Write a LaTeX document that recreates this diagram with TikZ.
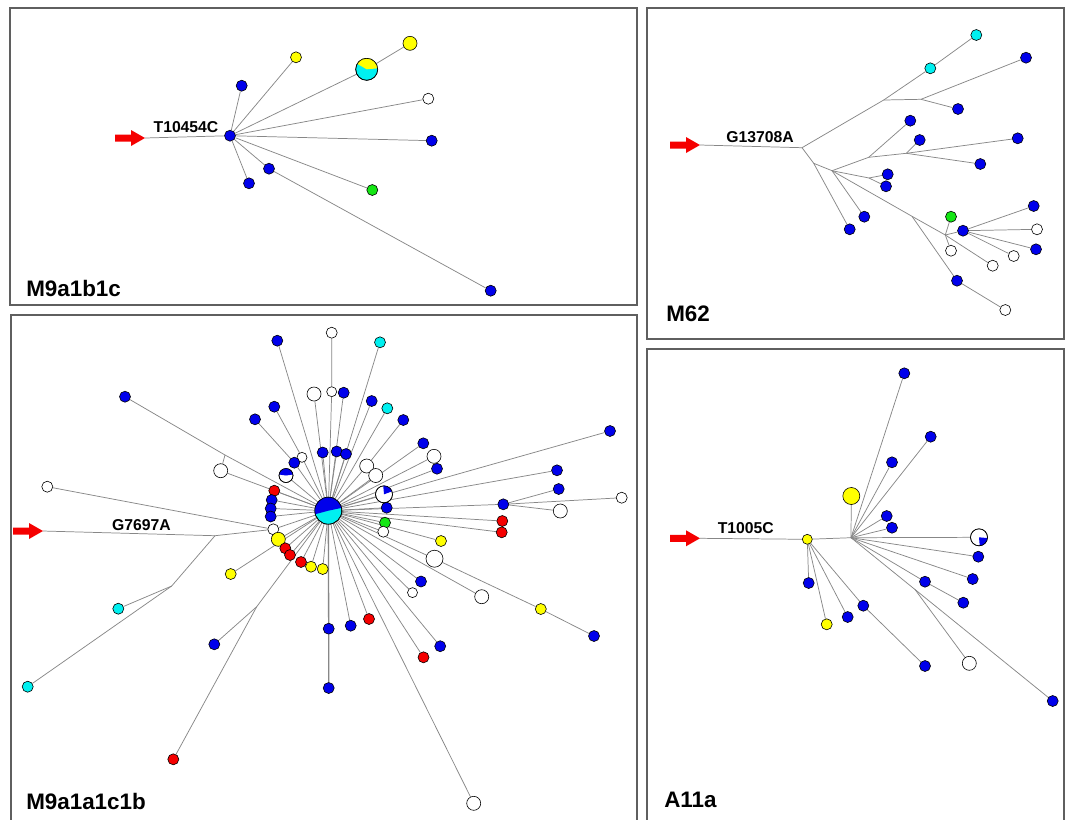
\documentclass[tikz,border=0pt]{standalone}
\usepackage{fontspec}
\setmainfont{Liberation Sans}
\pgfdeclarelayer{paper}
\pgfdeclarelayer{bg}
\pgfsetlayers{paper,bg,main}
\definecolor{nblue}{RGB}{0,0,235}
\definecolor{ncyan}{RGB}{0,240,240}
\definecolor{nyellow}{RGB}{255,255,0}
\definecolor{ngreen}{RGB}{20,230,20}
\definecolor{nred}{RGB}{245,0,0}
\definecolor{linkgray}{RGB}{135,135,135}
\definecolor{framegray}{RGB}{95,95,95}
\tikzset{
  nd/.style={circle, draw=black, line width=0.45pt, inner sep=0pt, minimum size=8.25pt},
  bnode/.style={nd, fill=nblue},
  cnode/.style={nd, fill=ncyan},
  ynode/.style={nd, fill=nyellow},
  gnode/.style={nd, fill=ngreen},
  rnode/.style={nd, fill=nred},
  wnode/.style={nd, fill=white},
  small/.style={minimum size=7.5pt},
  bigger/.style={minimum size=10.5pt},
  huge/.style={minimum size=12.75pt},
  link/.style={draw=linkgray, line width=0.55pt},
  frame/.style={draw=framegray, line width=1.1pt},
  lab/.style={inner sep=0pt, font=\fontsize{11.8}{13}\selectfont\bfseries},
  title/.style={inner sep=0pt, anchor=base west, font=\fontsize{16.8}{19}\selectfont\bfseries},
}
% coloured sector of a pie node: node, colour, start angle, end angle, radius
\newcommand\wedgefill[5]{%
  \fill[#2] (#1.center) -- ++(#3:#5) arc[start angle=#3, end angle=#4, radius=#5] -- cycle;
  \draw[line width=0.45pt] (#1.center) circle[radius=#5];}
% red block arrow ending at a named tip
\newcommand\rootarrow[1]{%
  \fill[nred] (#1) -- ++(-14,8) -- ++(0,-4.5) -- ++(-16,0) -- ++(0,-7) -- ++(16,0) -- ++(0,-4.5) -- cycle;}
\begin{document}
\begin{tikzpicture}[x=0.75pt, y=-0.75pt]
\useasboundingbox (0,0) rectangle (1070,819);
\begin{pgfonlayer}{paper}
\fill[white] (0,0) rectangle (1070,819);
\end{pgfonlayer}

% ---------- frames ----------
\draw[frame] (10,8) rectangle (637,305);
\draw[frame] (647,8) rectangle (1064,339);
\draw[frame] (11,830) -- (11,315) -- (637,315) -- (637,830);
\draw[frame] (647,830) -- (647,349) -- (1064,349) -- (1064,830);

% ---------- M9a1b1c ----------
\coordinate (a1t) at (145,138);
\node[bnode] (a1h) at (230,135.7) {};
\node[bnode] (a1n1) at (241.7,85.7) {};
\node[ynode] (a1n2) at (296,57.3) {};
\node[cnode, minimum size=16.5pt] (a1p) at (366.7,69.3) {};
\node[ynode, bigger] (a1n3) at (410,43.3) {};
\node[wnode] (a1n4) at (428.3,98.7) {};
\node[bnode] (a1n5) at (431.7,140.7) {};
\node[gnode] (a1n6) at (372.3,190) {};
\node[bnode] (a1n7) at (269,168.7) {};
\node[bnode] (a1n8) at (490.7,290.7) {};
\node[bnode] (a1n9) at (249,183.3) {};
\wedgefill{a1p}{nyellow}{5}{150}{8.25pt}
\rootarrow{a1t}
\node[lab] (a1l) at (186,127.5) {T10454C};
\node[title] (a1name) at (26,296) {M9a1b1c};
\begin{pgfonlayer}{bg}
\draw[link] (a1t) -- (a1h);
\foreach \n in {a1n1,a1n2,a1p,a1n4,a1n5,a1n6,a1n7,a1n9} \draw[link] (a1h) -- (\n);
\draw[link] (a1p) -- (a1n3);
\draw[link] (a1n7) -- (a1n8);
\end{pgfonlayer}

% ---------- M62 ----------
\coordinate (b2t) at (700,145);
\coordinate (b2j0) at (802,147.7);
\coordinate (b2j1) at (883.7,100);
\node[cnode] (b2c1) at (930.3,68.3) {};
\node[cnode] (b2c2) at (976.3,35) {};
\coordinate (b2j2) at (921,99.3);
\node[bnode] (b2n1) at (1026,57.7) {};
\node[bnode] (b2n2) at (958,109) {};
\coordinate (b2j3) at (813.7,163.3);
\node[bnode] (b2n3) at (849.7,229.3) {};
\coordinate (b2j4) at (832,170.7);
\coordinate (b2j5) at (868.7,157.3);
\node[bnode] (b2n4) at (910.3,120.7) {};
\coordinate (b2j6) at (906.3,153.3);
\node[bnode] (b2n5) at (919.7,140) {};
\node[bnode] (b2n6) at (1017.7,138.3) {};
\node[bnode] (b2n7) at (980.3,164) {};
\coordinate (b2j7) at (869,178);
\node[bnode] (b2n8) at (887.7,174.3) {};
\node[bnode] (b2n9) at (886,186.3) {};
\node[bnode] (b2n10) at (864.3,216.7) {};
\coordinate (b2j9) at (912,216.3);
\node[bnode] (b2n11) at (957,280.7) {};
\node[wnode] (b2n12) at (1005.3,310) {};
\coordinate (b2j10) at (945.3,235);
\node[gnode] (b2n13) at (951,216.7) {};
\node[wnode] (b2n14) at (951,250.7) {};
\node[wnode] (b2n15) at (992.7,265.7) {};
\node[bnode] (b2n16) at (963,230.7) {};
\node[bnode] (b2n17) at (1033.7,206) {};
\node[wnode] (b2n18) at (1037,229.3) {};
\node[bnode] (b2n19) at (1036,249.3) {};
\node[wnode] (b2n20) at (1013.7,256) {};
\rootarrow{b2t}
\node[lab] (b2l) at (760,137.5) {G13708A};
\node[title] (b2name) at (666,321.7) {M62};
\begin{pgfonlayer}{bg}
\draw[link] (b2t) -- (b2j0) -- (b2j1) -- (b2c1) -- (b2c2);
\draw[link] (b2j1) -- (b2j2) -- (b2n1);
\draw[link] (b2j2) -- (b2n2);
\draw[link] (b2j0) -- (b2j3) -- (b2n3);
\draw[link] (b2j3) -- (b2j4) -- (b2j5) -- (b2n4);
\draw[link] (b2j5) -- (b2j6) -- (b2n6);
\draw[link] (b2j6) -- (b2n5);
\draw[link] (b2j6) -- (b2n7);
\draw[link] (b2j4) -- (b2j7) -- (b2n8);
\draw[link] (b2j7) -- (b2n9);
\draw[link] (b2j4) -- (b2n10);
\draw[link] (b2j4) -- (b2j9) -- (b2j10) -- (b2n16);
\draw[link] (b2j9) -- (b2n11) -- (b2n12);
\draw[link] (b2j10) -- (b2n13);
\draw[link] (b2j10) -- (b2n14);
\draw[link] (b2j10) -- (b2n15);
\foreach \n in {b2n17,b2n18,b2n19,b2n20} \draw[link] (b2n16) -- (\n);
\end{pgfonlayer}

% ---------- M9a1a1c1b ----------
\coordinate (c3t) at (43,531);
\node[cnode, minimum size=20.25pt] (h3) at (328.3,510.7) {};
\coordinate (c3j1) at (215,535.7);
\node[wnode] (c3w0) at (273.3,529.3) {};
\coordinate (c3j2) at (171.7,586);
\node[cnode] (c3c1) at (118.3,608.7) {};
\node[cnode] (c3c2) at (27.7,686.7) {};
\node[wnode] (c3w1) at (47.3,486.7) {};
\node[bnode] (c3b1) at (125,396.7) {};
\coordinate (c3j3) at (225,455);
\node[wnode, bigger] (c3w2) at (220.7,470.7) {};
\node[bnode] (c3b2) at (277.3,340.7) {};
\node[wnode] (c3w3) at (331.7,332.7) {};
\node[wnode, small] (c3w4) at (331.7,391.7) {};
\node[cnode] (c3c3) at (380,342.3) {};
\node[wnode, bigger] (c3w5) at (314,394) {};
\node[bnode] (c3b3) at (343.7,392.7) {};
\node[bnode] (c3b4) at (274.3,406.7) {};
\node[wnode, small] (c3w6) at (302,457.3) {};
\node[bnode] (c3b5) at (255,419.3) {};
\node[bnode] (c3b6) at (294.3,462.7) {};
\node[bnode] (c3b7) at (371.7,401) {};
\node[cnode] (c3c4) at (387.3,408.3) {};
\node[bnode] (c3b8) at (403.3,420) {};
\node[wnode, bigger] (c3w7) at (366.7,466) {};
\node[wnode, bigger] (c3w8) at (375.7,475.5) {};
\node[bnode] (c3b9) at (322.7,452.5) {};
\node[bnode] (c3b10) at (336.7,451.5) {};
\node[bnode] (c3b11) at (346,454) {};
\node[bnode] (c3b12) at (423.3,443.3) {};
\node[wnode, bigger] (c3w9) at (434,456.3) {};
\node[bnode] (c3b13) at (437,468.7) {};
\node[wnode, bigger] (c3p1) at (286,475.5) {};
\node[wnode, huge] (c3p2) at (384,494.3) {};
\node[bnode] (c3b14) at (386.7,507.7) {};
\node[gnode] (c3g1) at (385,522.7) {};
\node[wnode] (c3w10) at (383.3,531.7) {};
\node[rnode] (c3r1) at (274.3,490.7) {};
\node[bnode] (c3b15) at (271.7,500) {};
\node[bnode] (c3b16) at (270.7,508.5) {};
\node[bnode] (c3b17) at (270.7,516.5) {};
\node[ynode, bigger] (c3y1) at (278.3,539.3) {};
\node[rnode] (c3r2) at (285.3,548.3) {};
\node[rnode] (c3r3) at (290,555) {};
\node[rnode] (c3r4) at (301,562) {};
\node[ynode] (c3y2) at (311,566.7) {};
\node[ynode] (c3y3) at (322.7,569) {};
\node[ynode] (c3y4) at (230.7,574) {};
\coordinate (c3j4) at (256.7,606.7);
\node[bnode] (c3b18) at (214.3,644.3) {};
\node[rnode] (c3r5) at (173.3,759.3) {};
\node[bnode] (c3b19) at (328.7,628.7) {};
\node[bnode] (c3b20) at (328.7,688) {};
\node[bnode] (c3b21) at (350.7,625.7) {};
\node[rnode] (c3r6) at (369,619) {};
\node[rnode] (c3r7) at (423.5,657.3) {};
\node[bnode] (c3b22) at (440.2,646.2) {};
\node[wnode, bigger] (c3w11) at (473.7,803.3) {};
\node[wnode, small] (c3w12) at (412.5,592.6) {};
\node[bnode] (c3b23) at (421,581.5) {};
\node[wnode, bigger] (c3w13) at (481.7,596.7) {};
\node[wnode, huge] (c3w14) at (434.5,558.7) {};
\node[ynode] (c3y5) at (540.8,609) {};
\node[bnode] (c3b24) at (594,636) {};
\node[ynode] (c3y6) at (441,541) {};
\node[rnode] (c3r8) at (502.3,521) {};
\node[rnode] (c3r9) at (501.7,532.3) {};
\node[bnode] (c3b25) at (503.3,504.3) {};
\node[bnode] (c3b26) at (558.7,489) {};
\node[wnode] (c3w15) at (621.7,497.7) {};
\node[wnode, bigger] (c3w16) at (560.3,511) {};
\node[bnode] (c3b27) at (557,470.3) {};
\node[bnode] (c3b28) at (610,431) {};
\wedgefill{h3}{nblue}{12}{195}{10.125pt}
\wedgefill{c3p1}{nblue}{8}{172}{5.25pt}
\wedgefill{c3p2}{nblue}{20}{95}{6.375pt}
\rootarrow{c3t}
\node[lab] (c3l) at (141.5,525.3) {G7697A};
\node[title] (c3name) at (26,809) {M9a1a1c1b};
\begin{pgfonlayer}{bg}
\draw[link] (c3t) -- (c3j1) -- (c3w0) -- (h3);
\draw[link] (c3w1) -- (c3w0);
\draw[link] (c3j1) -- (c3j2) -- (c3c1);
\draw[link] (c3j2) -- (c3c2);
\draw[link] (c3b1) -- (c3j3) -- (h3);
\draw[link] (c3j3) -- (c3w2) -- (h3);
\draw[link] (c3b4) -- (c3w6) -- (h3);
\draw[link] (c3b5) -- (c3b6) -- (h3);
\draw[link] (c3b8) -- (c3w7) -- (h3);
\draw[link] (c3w3) -- (c3w4) -- (h3);
\foreach \n in {c3b2,c3c3,c3w5,c3b3,c3b7,c3c4,c3w8,c3b9,c3b10,c3b11,c3b12,c3w9,c3b13,
  c3p1,c3p2,c3b14,c3g1,c3w10,c3r1,c3b15,c3b16,c3b17,c3y1,c3r2,c3r3,c3r4,c3y2,c3y3,c3y4,
  c3j4,c3b21,c3r6,c3r7,c3b22,c3w11,c3w12,c3b23,c3w13,c3w14,c3y6,c3r8,c3r9,c3b25,c3b27,c3b28}
  \draw[link] (h3) -- (\n);
\draw[link, line width=1pt] (h3) -- (c3b19) -- (c3b20);
\draw[link] (c3j4) -- (c3r5);
\draw[link] (c3j4) -- (c3b18);
\draw[link] (c3w14) -- (c3y5) -- (c3b24);
\foreach \n in {c3b26,c3w15,c3w16} \draw[link] (c3b25) -- (\n);
\end{pgfonlayer}

% ---------- A11a ----------
\coordinate (d4t) at (700,538.3);
\node[ynode, small] (d4y1) at (807.3,539.3) {};
\coordinate (d4h) at (851,537.7);
\node[bnode] (d4b1) at (808.7,583) {};
\node[ynode] (d4y2) at (826.7,624.3) {};
\node[bnode] (d4b2) at (847.7,617) {};
\node[bnode] (d4b3) at (863.3,605.7) {};
\node[bnode] (d4b4) at (925,666) {};
\node[ynode, huge] (d4y3) at (851.3,496) {};
\node[bnode] (d4b5) at (904.3,373.3) {};
\node[bnode] (d4b6) at (930.7,436.7) {};
\node[bnode] (d4b7) at (892,462.3) {};
\node[bnode] (d4b8) at (886.7,516) {};
\node[bnode] (d4b9) at (892,527.7) {};
\node[wnode, huge] (d4p) at (979,537.3) {};
\node[bnode] (d4b10) at (978.3,556.7) {};
\node[bnode] (d4b11) at (972.7,579) {};
\node[bnode] (d4b12) at (925,581.7) {};
\node[bnode] (d4b13) at (963.3,602.7) {};
\coordinate (d4j) at (915,589.5);
\node[wnode, bigger] (d4w) at (969.3,663.3) {};
\node[bnode] (d4b14) at (1052.7,701) {};
\wedgefill{d4p}{nblue}{275}{355}{6.375pt}
\rootarrow{d4t}
\node[lab] (d4l) at (745.8,528.5) {T1005C};
\node[title] (d4name) at (664,807) {A11a};
\begin{pgfonlayer}{bg}
\draw[link] (d4t) -- (d4y1) -- (d4h);
\foreach \n in {d4b1,d4y2,d4b2,d4b3} \draw[link] (d4y1) -- (\n);
\draw[link] (d4b3) -- (d4b4);
\foreach \n in {d4y3,d4b5,d4b6,d4b7,d4b8,d4b9,d4p,d4b10,d4b11,d4b12} \draw[link] (d4h) -- (\n);
\draw[link] (d4b12) -- (d4b13);
\draw[link] (d4h) -- (d4j) -- (d4b14);
\draw[link] (d4j) -- (d4w);
\end{pgfonlayer}
\end{tikzpicture}
\end{document}
